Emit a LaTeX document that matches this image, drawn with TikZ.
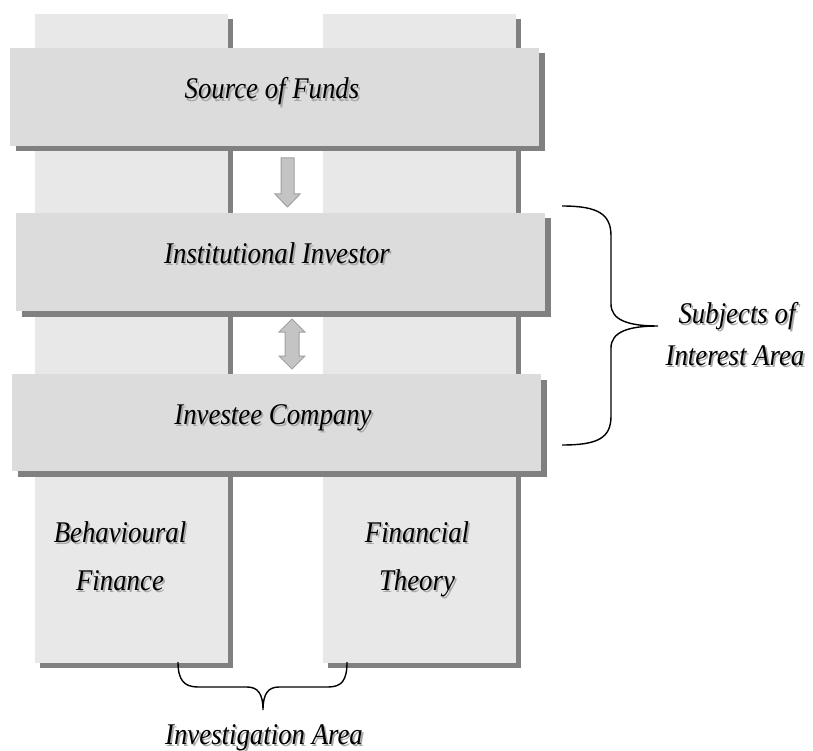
\documentclass[tikz,border=0pt]{standalone}
\usepackage{fontspec}
\setmainfont{Liberation Serif}
\usetikzlibrary{shadows}

\definecolor{colfill}{HTML}{E8E8E8}
\definecolor{boxfill}{HTML}{DCDCDC}
\definecolor{shadowgray}{HTML}{808080}
\definecolor{txtshadow}{HTML}{A8A8A8}
\definecolor{arrfill}{HTML}{C4C4C4}
\definecolor{arrdraw}{HTML}{A0A0A0}

% shadowed italic text
\newcommand{\shtxt}[1]{\scalebox{1}[1.12]{%
  \makebox[0pt][l]{\hspace{1.8pt}\raisebox{-1.8pt}{\textcolor{txtshadow}{#1}}}#1}}

\begin{document}
\begin{tikzpicture}[x=1pt,y=-1pt]
\tikzstyle{column} = [fill=colfill,draw=none,inner sep=0pt,minimum width=193pt,minimum height=649pt,
  drop shadow={shadow xshift=5pt,shadow yshift=-5pt,fill=shadowgray,opacity=1}]
\tikzstyle{layer} = [fill=boxfill,draw=none,inner sep=0pt,minimum width=529pt,minimum height=98pt,
  drop shadow={shadow xshift=5.5pt,shadow yshift=-5.5pt,fill=shadowgray,opacity=1}]
\tikzstyle{lbl} = [anchor=base,inner sep=0pt,font=\fontsize{26.8}{30}\selectfont\itshape]
\tikzstyle{blockarrow} = [fill=arrfill,draw=arrdraw,line width=1pt,line join=miter]
\tikzstyle{brace} = [draw=black,line width=1.4pt]
\useasboundingbox (0,0) rectangle (813,751);

% columns
\node[column] (behav) at (131.5,338.5) {};
\node[column] (fintheo) at (419.5,338.5) {};

% layers
\node[layer] (funds) at (274.5,97) {};
\node[layer] (inst) at (280.5,262) {};
\node[layer,minimum height=97pt] (invco) at (276.5,422.5) {};

\node[lbl] (fundstxt) at (272,99) {\shtxt{Source of Funds}};
\node[lbl] (insttxt) at (277,263) {\shtxt{Institutional Investor}};
\node[lbl] (invcotxt) at (273,424) {\shtxt{Investee Company}};

\node[lbl] (behav1) at (120,542) {\shtxt{Behavioural}};
\node[lbl] (behav2) at (120,590) {\shtxt{Finance}};
\node[lbl] (fintheo1) at (417,542) {\shtxt{Financial}};
\node[lbl] (fintheo2) at (417,590) {\shtxt{Theory}};

% block arrows
\filldraw[blockarrow] (281,158) -- (294,158) -- (294,194) -- (300,194) -- (287.5,207)
  -- (275,194) -- (281,194) -- cycle;
\filldraw[blockarrow] (292,319) -- (305,332) -- (299,332) -- (299,356) -- (305,356)
  -- (292,369) -- (279,356) -- (285,356) -- (285,332) -- (279,332) -- cycle;

% brace for subjects
\coordinate (sTop) at (562,206);
\coordinate (sTip) at (658,326);
\coordinate (sBot) at (562,445);
\draw[brace] (sTop) .. controls (598,206) and (611,214) .. (611,236) -- (611,304)
  .. controls (611,320) and (628,326) .. (sTip)
  .. controls (628,326) and (611,332) .. (611,348) -- (611,416)
  .. controls (611,438) and (598,445) .. (sBot);
\node[lbl] (subj1) at (737,323) {\shtxt{Subjects of}};
\node[lbl] (subj2) at (735,365) {\shtxt{Interest Area}};

% brace for investigation
\coordinate (iLeft) at (178,662);
\coordinate (iTip) at (263,710);
\coordinate (iRight) at (347,662);
\draw[brace] (iLeft) .. controls (178,680) and (184,687) .. (198,687) -- (247,687)
  .. controls (258,687) and (263,694) .. (iTip)
  .. controls (263,694) and (268,687) .. (279,687) -- (328,687)
  .. controls (342,687) and (347,680) .. (iRight);
\node[lbl] (invest) at (264,744) {\shtxt{Investigation Area}};
\end{tikzpicture}
\end{document}
